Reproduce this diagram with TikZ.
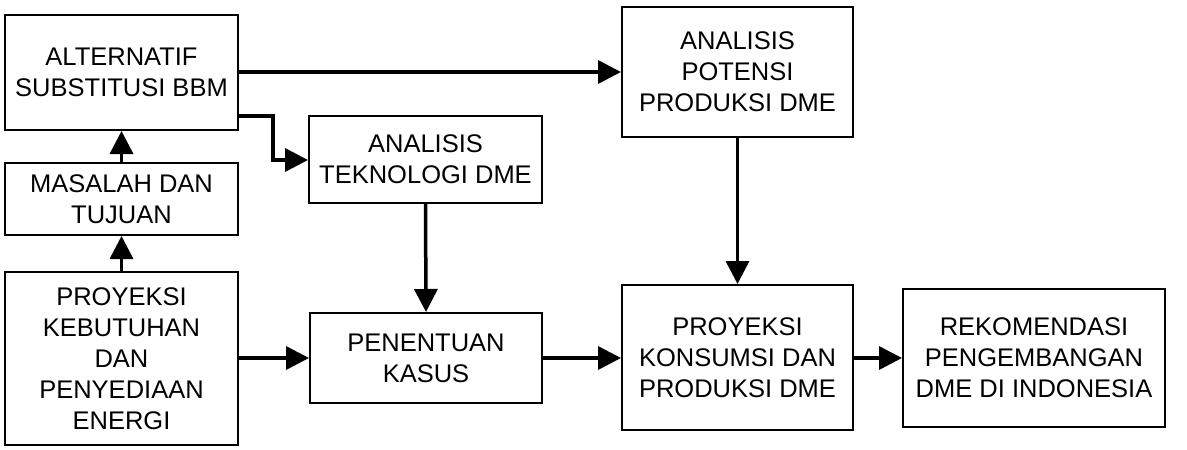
\documentclass[tikz,border=0pt]{standalone}
\usepackage{fontspec}
\setmainfont{Liberation Sans}
\usetikzlibrary{arrows.meta}
\begin{document}
\begin{tikzpicture}[x=1pt,y=-1pt,
  blk/.style={draw, line width=2pt, inner sep=0pt, align=center,
    font=\fontsize{25.5}{31}\selectfont},
  conn/.style={line width=3.5pt, -{Triangle[length=23pt,width=23pt]}}]
\useasboundingbox (0,0) rectangle (1187,450);
\newcommand{\blkbox}[6]{% name, x1,y1,x2,y2,text
  \node[blk, minimum width=#4-#2, minimum height=#5-#3] (#1) at ({(#2+#4)/2},{(#3+#5)/2}) {#6};}
\blkbox{alt}{5}{15}{238}{130}{ALTERNATIF\\SUBSTITUSI BBM}
\blkbox{mas}{5}{163}{238}{235}{MASALAH DAN\\TUJUAN}
\blkbox{pro}{5}{272}{238}{445}{PROYEKSI\\KEBUTUHAN\\DAN\\PENYEDIAAN\\ENERGI}
\blkbox{tek}{309}{116}{542}{203}{ANALISIS\\TEKNOLOGI DME}
\blkbox{pen}{310}{313}{542}{403}{PENENTUAN\\KASUS}
\blkbox{pot}{622}{7}{853}{137}{ANALISIS\\POTENSI\\PRODUKSI DME}
\blkbox{kon}{622}{285}{853}{430}{PROYEKSI\\KONSUMSI DAN\\PRODUKSI DME}
\blkbox{rek}{903}{289}{1165}{427}{REKOMENDASI\\PENGEMBANGAN\\DME DI INDONESIA}
\draw[conn] (pro.north) -- (mas.south);
\draw[conn] (mas.north) -- (alt.south);
\draw[conn] (alt.east |- 0,72) -- (pot.west |- 0,72);
\draw[conn] (alt.east |- 0,116) -- (273,116) |- (tek.west |- 0,160);
\draw[conn] (tek.south) -- (pen.north);
\draw[conn] (pot.south) -- (kon.north);
\draw[conn] (pro.east |- 0,358) -- (pen.west |- 0,358);
\draw[conn] (pen.east |- 0,358) -- (kon.west |- 0,358);
\draw[conn] (kon.east |- 0,358) -- (rek.west |- 0,358);
\end{tikzpicture}
\end{document}
